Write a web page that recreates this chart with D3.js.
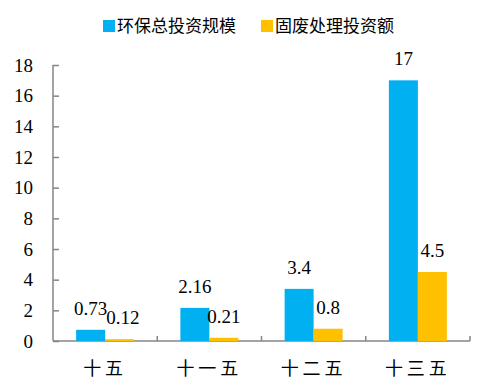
<!DOCTYPE html>
<html>
<head>
<meta charset="utf-8">
<script src="https://cdn.jsdelivr.net/npm/d3@7"></script>
<style>
  body { margin: 0; background: #fff; }
  svg { display: block; }
</style>
</head>
<body>
<div id="chart"></div>
<script>
// data
const categories = ['十五', '十一五', '十二五', '十三五']
const seriesNames = ['环保总投资规模', '固废处理投资额']
const totalInvest = [0.73, 2.16, 3.4, 17]
const wasteInvest = [0.12, 0.21, 0.8, 4.5]
const yTicks = [0, 2, 4, 6, 8, 10, 12, 14, 16, 18]
const colors = ['#00B0F0', '#FFC000']

const W = 478, H = 388
const m = {left: 53, right: 8, top: 65, bottom: 47}
const numFont = "'Liberation Serif', 'Times New Roman', serif"
const cjkFont = "'Noto Sans CJK SC', sans-serif"

const svg = d3.select('#chart').append('svg')
  .attr('width', W).attr('height', H)

const x0 = d3.scaleBand().domain(categories)
  .range([m.left, W - m.right]).padding(0)
const bw = 29
const x1 = d3.scaleBand().domain(seriesNames)
  .range([x0.bandwidth() / 2 - bw, x0.bandwidth() / 2 + bw]).padding(0)
const y = d3.scaleLinear().domain([0, 18]).range([H - m.bottom, m.top])

const rows = categories.map((c, i) => ({
  cat: c,
  vals: [
    {s: seriesNames[0], v: totalInvest[i], c: colors[0]},
    {s: seriesNames[1], v: wasteInvest[i], c: colors[1]}
  ]
}))

// y axis (inside ticks)
const yAxis = svg.append('g').attr('transform', `translate(${m.left},0)`)
  .call(d3.axisRight(y).tickValues(yTicks).tickSize(6).tickFormat(''))
yAxis.select('.domain').attr('d', `M0,${y(18)}V${y(0)}`)
yAxis.selectAll('line, path').attr('stroke', '#868686').attr('stroke-width', 1.5)

svg.append('g').selectAll('text').data(yTicks).join('text')
  .attr('x', 33).attr('y', d => y(d)).attr('dy', '0.35em')
  .attr('text-anchor', 'end')
  .attr('font-family', numFont).attr('font-size', 19).attr('fill', '#000')
  .text(d => d)

// x axis (inside ticks)
const xAxis = svg.append('g').attr('transform', `translate(0,${y(0)})`)
xAxis.append('line').attr('x1', m.left).attr('x2', W - m.right)
  .attr('stroke', '#868686').attr('stroke-width', 1.5)
xAxis.selectAll('.tk').data(categories).join('line').attr('class', 'tk')
  .attr('x1', d => x0(d) + x0.bandwidth()).attr('x2', d => x0(d) + x0.bandwidth())
  .attr('y1', 0).attr('y2', -5)
  .attr('stroke', '#868686').attr('stroke-width', 1.5)

svg.append('g').selectAll('text').data(categories).join('text')
  .attr('x', d => x0(d) + x0.bandwidth() / 2).attr('y', 369).attr('dy', '0.35em')
  .attr('text-anchor', 'middle')
  .attr('font-family', cjkFont).attr('font-size', 18)
  .attr('letter-spacing', 4).attr('fill', '#000')
  .text(d => d)

// bars
const groups = svg.append('g').selectAll('g').data(rows).join('g')
  .attr('transform', d => `translate(${x0(d.cat)},0)`)

groups.selectAll('rect').data(d => d.vals).join('rect')
  .attr('x', d => x1(d.s)).attr('width', x1.bandwidth())
  .attr('y', d => y(d.v)).attr('height', d => y(0) - y(d.v))
  .attr('fill', d => d.c)

// value labels, nudge second label right if it collides with first
groups.each(function (d) {
  const g = d3.select(this)
  const labels = d.vals.map(v => g.append('text')
    .attr('x', x1(v.s) + x1.bandwidth() / 2)
    .attr('y', y(v.v) - 15)
    .attr('text-anchor', 'middle')
    .attr('font-family', numFont).attr('font-size', 19).attr('fill', '#000')
    .text(v.v))
  const a = labels[0].node().getBBox(), b = labels[1].node().getBBox()
  const vOverlap = !(b.y > a.y + a.height || a.y > b.y + b.height)
  if (vOverlap && b.x < a.x + a.width) {
    labels[1].attr('x', +labels[1].attr('x') + (a.x + a.width - b.x) - 1)
  }
})

// legend
const legend = svg.append('g').attr('transform', 'translate(103,26)')
const legX = [0, 158]
seriesNames.forEach((s, i) => {
  const lg = legend.append('g').attr('transform', `translate(${legX[i]},0)`)
  lg.append('rect').attr('x', 0).attr('y', -6).attr('width', 12).attr('height', 12)
    .attr('fill', colors[i])
  lg.append('text').attr('x', 14).attr('y', 0).attr('dy', '0.35em')
    .attr('font-family', cjkFont).attr('font-size', 17).attr('fill', '#000')
    .text(s)
})
</script>
</body>
</html>
